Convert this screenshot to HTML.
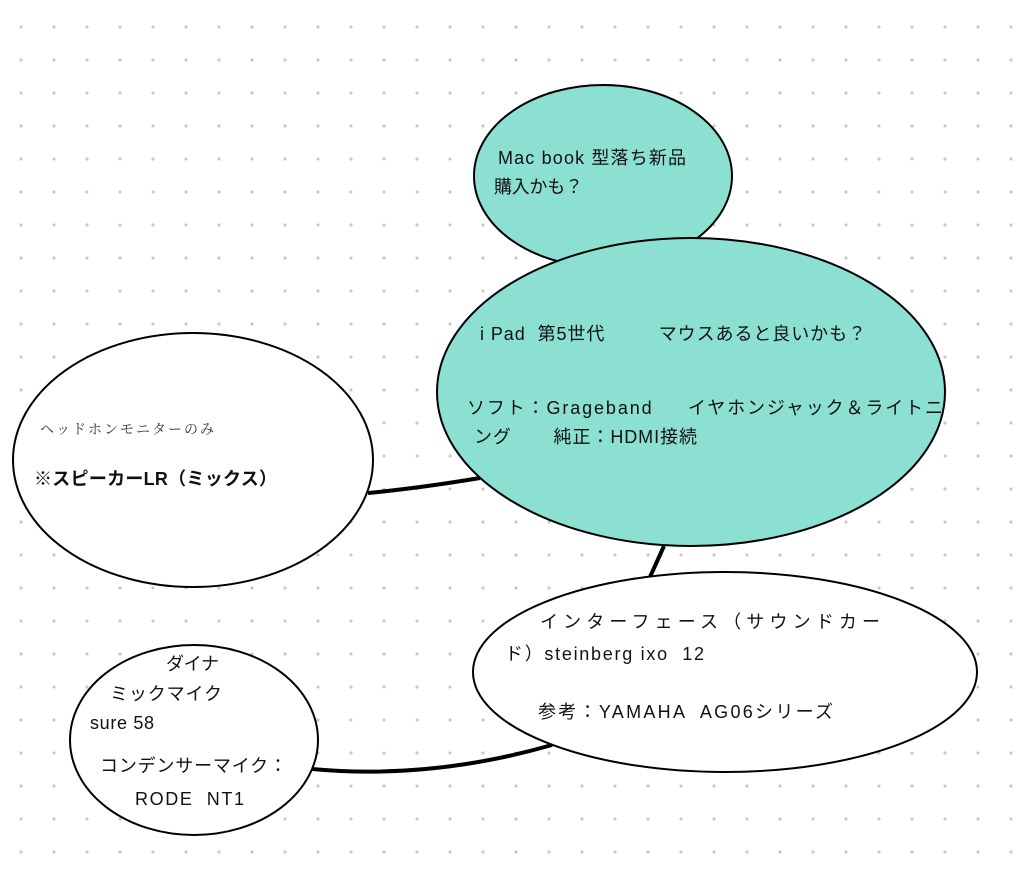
<!DOCTYPE html>
<html><head><meta charset="utf-8"><style>
html,body{margin:0;padding:0;background:#fff;}
body{width:1024px;height:881px;overflow:hidden;position:relative;
background-image:radial-gradient(circle,#c8c8c8 1.4px,transparent 1.8px);
background-size:33px 33px;background-position:4.5px 10.5px;}
svg{position:absolute;left:0;top:0;}
text{font-family:"Liberation Sans","Noto Sans CJK JP",sans-serif;font-size:18px;fill:#111;white-space:pre;}
</style></head><body>
<svg width="1024" height="881" viewBox="0 0 1024 881" xml:space="preserve">
<path d="M368 493 Q420 488 480 478" stroke="#000" stroke-width="4" fill="none"/>
<path d="M664 546 L650 577" stroke="#000" stroke-width="4" fill="none"/>
<path d="M312 769 Q430 780 552 745" stroke="#000" stroke-width="4" fill="none"/>
<ellipse cx="603" cy="176" rx="129" ry="91" fill="#8ce0d1" stroke="#000" stroke-width="2"/>
<ellipse cx="691" cy="392" rx="254" ry="154" fill="#8ce0d1" stroke="#000" stroke-width="2"/>
<ellipse cx="193" cy="460" rx="180" ry="127" fill="#fff" stroke="#000" stroke-width="2"/>
<ellipse cx="725" cy="672" rx="252" ry="100" fill="#fff" stroke="#000" stroke-width="2"/>
<ellipse cx="194" cy="740" rx="124" ry="95" fill="#fff" stroke="#000" stroke-width="2"/>
<text x="498" y="164" textLength="188" lengthAdjust="spacing">Mac book 型落ち新品</text>
<text x="494" y="193" textLength="89" lengthAdjust="spacing">購入かも？</text>
<text x="480" y="340" textLength="386" lengthAdjust="spacing">i Pad  第5世代         マウスあると良いかも？</text>
<text x="467" y="414" textLength="476" lengthAdjust="spacing">ソフト：Grageband     イヤホンジャック＆ライトニ</text>
<text x="474" y="443" textLength="223" lengthAdjust="spacing">ング       純正：HDMI接続</text>
<text x="40" y="434" textLength="174" lengthAdjust="spacing" style="font-family:'Liberation Serif','Noto Serif CJK SC',serif;font-size:14px;fill:#333">ヘッドホンモニターのみ</text>
<text x="34" y="485" textLength="243" lengthAdjust="spacing" style="font-weight:bold">※スピーカーLR（ミックス）</text>
<text x="540" y="628" textLength="340" lengthAdjust="spacing">インターフェース（サウンドカー</text>
<text x="505" y="660" textLength="199" lengthAdjust="spacing">ド）steinberg ixo  12</text>
<text x="538" y="718" textLength="295" lengthAdjust="spacing">参考：YAMAHA  AG06シリーズ</text>
<text x="166" y="670" textLength="53" lengthAdjust="spacing">ダイナ</text>
<text x="110" y="700" textLength="112" lengthAdjust="spacing">ミックマイク</text>
<text x="90" y="729" textLength="64" lengthAdjust="spacing">sure 58</text>
<text x="100" y="772" textLength="187" lengthAdjust="spacing">コンデンサーマイク：</text>
<text x="135" y="805" textLength="109" lengthAdjust="spacing">RODE  NT1</text>
</svg>
</body></html>
